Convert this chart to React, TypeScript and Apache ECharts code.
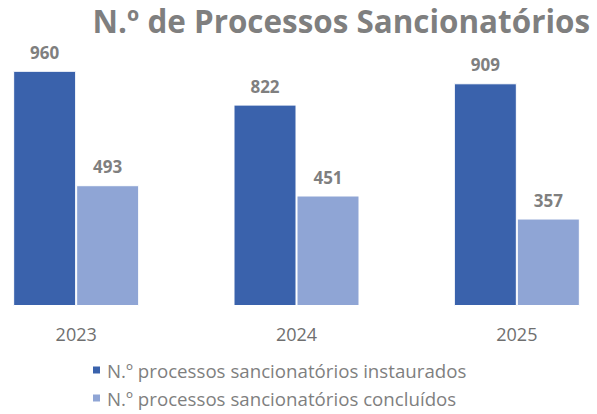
import React, { useEffect, useRef } from "react";
import * as echarts from "echarts";

const categories = ["2023", "2024", "2025"];
const instaurados = [960, 822, 909];
const concluidos = [493, 451, 357];
const seriesNames = [
  "N.º processos sancionatórios instaurados",
  "N.º processos sancionatórios concluídos",
];
const titleText = "N.º de Processos Sancionatórios";

export default function App() {
  const ref = useRef<HTMLDivElement>(null);
  useEffect(() => {
    if (!ref.current) return;
    const chart = echarts.init(ref.current, undefined, { renderer: "svg" });
    const font = "'Open Sans', sans-serif";
    const label = {
      show: true,
      position: "top",
      distance: 10,
      color: "#7F7F7F",
      fontWeight: "bold",
      fontSize: 17,
      fontFamily: font,
    };
    chart.setOption({
      animation: false,
      title: {
        text: titleText,
        right: 37,
        top: 5,
        padding: 0,
        textStyle: {
          color: "#7F7F7F",
          fontWeight: "bold",
          fontSize: 31.4,
          fontFamily: font,
        },
      },
      legend: {
        orient: "vertical",
        left: 125,
        top: 359,
        height: 60,
        padding: 0,
        itemWidth: 9,
        itemHeight: 9,
        itemGap: 6,
        icon: "rect",
        textStyle: {
          color: "#7F7F7F",
          fontSize: 18.7,
          lineHeight: 22,
          fontFamily: font,
          padding: [0, 0, 0, 1],
        },
        data: seriesNames,
      },
      grid: { left: 0, right: 0, top: 61, bottom: 108 },
      xAxis: {
        type: "category",
        data: categories,
        axisLine: { show: false },
        axisTick: { show: false },
        axisLabel: { color: "#6F6F6F", fontSize: 18, fontFamily: font, margin: 19 },
      },
      yAxis: {
        type: "value",
        min: 0,
        max: 1000,
        show: false,
        splitLine: { show: false },
      },
      series: [
        {
          name: seriesNames[0],
          type: "bar",
          data: instaurados,
          barWidth: 63,
          barGap: "0%",
          itemStyle: { color: "#3A62AC", borderColor: "#fff", borderWidth: 1 },
          label,
        },
        {
          name: seriesNames[1],
          type: "bar",
          data: concluidos,
          barWidth: 63,
          itemStyle: { color: "#8FA5D5", borderColor: "#fff", borderWidth: 1 },
          label,
        },
      ],
    });
    return () => chart.dispose();
  }, []);
  return (
    <div
      style={{
        position: "fixed",
        left: 0,
        top: 0,
        width: 597,
        height: 414,
        overflow: "hidden",
        background: "#fff",
      }}
    >
      <div
        ref={ref}
        style={{ position: "absolute", left: -34, top: 0, width: 661, height: 414 }}
      />
    </div>
  );
}
